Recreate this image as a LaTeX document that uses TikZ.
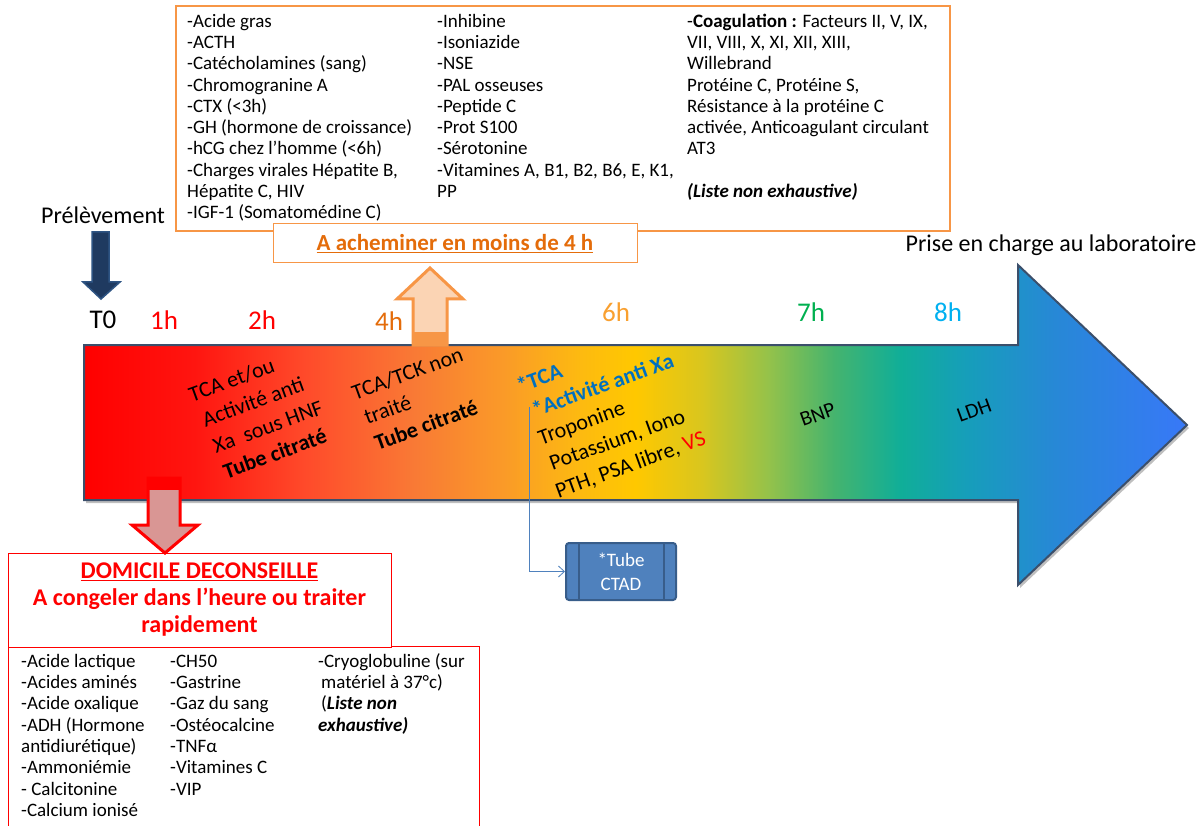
\documentclass[tikz,border=0pt]{standalone}
\usepackage{fontspec}
\setmainfont{Carlito}
\usetikzlibrary{arrows.meta}
\definecolor{aorange}{HTML}{F79646}
\definecolor{dorange}{HTML}{E46C0A}
\definecolor{peach}{HTML}{FBD4B4}
\definecolor{navy}{HTML}{1F3A60}
\definecolor{navyedge}{HTML}{2E5483}
\definecolor{pinkfill}{HTML}{D99694}
\definecolor{tblue}{HTML}{0070C0}
\definecolor{ctadfill}{HTML}{4F81BD}
\definecolor{ctadedge}{HTML}{385D8A}
\definecolor{arrowedge}{HTML}{3B4F6B}
\definecolor{sixh}{HTML}{F9A030}
\definecolor{sevenh}{HTML}{00B050}
\definecolor{eighth}{HTML}{00B0F0}
\definecolor{g0}{HTML}{FF0000}
\definecolor{g1}{HTML}{FF1510}
\definecolor{g2}{HTML}{FF4A2A}
\definecolor{g3}{HTML}{F97A35}
\definecolor{g4}{HTML}{FA9A28}
\definecolor{g5}{HTML}{FDBA10}
\definecolor{g6}{HTML}{FFC800}
\definecolor{g7}{HTML}{D9C61E}
\definecolor{g8}{HTML}{95C24A}
\definecolor{g9}{HTML}{45B46E}
\definecolor{g10}{HTML}{10AE98}
\definecolor{g11}{HTML}{169EBA}
\definecolor{g12}{HTML}{2788D6}
\definecolor{g13}{HTML}{3878F8}
\pgfdeclarehorizontalshading{timeline}{100bp}{color(0bp)=(g0); color(25bp)=(g0); color(30bp)=(g1); color(35bp)=(g2); color(40bp)=(g3); color(44bp)=(g4); color(47.5bp)=(g5); color(50bp)=(g6); color(53bp)=(g7); color(56bp)=(g8); color(59bp)=(g9); color(62bp)=(g10); color(65bp)=(g11); color(69bp)=(g12); color(75bp)=(g13); color(100bp)=(g13)}
\begin{document}
\begin{tikzpicture}[x=1pt,y=-1pt,
  boxline/.style={draw=aorange, line width=1.2pt},
  listtxt/.style={font=\fontsize{19}{21.3}\selectfont, align=left, anchor=north west, inner sep=0pt},
  hourlbl/.style={font=\fontsize{27}{30}\selectfont, inner sep=0pt},
  bigtxt/.style={font=\fontsize{24}{28}\selectfont, inner sep=0pt},
  arrgroup/.style={font=\fontsize{22}{#1}\selectfont, rotate=20, anchor=north west, align=left, inner sep=0pt},
  smalltxt/.style={font=\fontsize{21}{24}\selectfont, rotate=20, anchor=base west, inner sep=0pt},
  conn/.style={draw=ctadfill, line width=0.8pt, -{Straight Barb[length=6pt,width=11pt]}},
]
\useasboundingbox (0,0) rectangle (1202,826);
\fill[white] (0,0) rectangle (1202,826);

% ---------- top list box ----------
\draw[boxline] (176,6) rectangle (950,231);
\node[listtxt] (topc1) at (187,11) {\rule{0pt}{16pt}-Acide gras\\-ACTH\\-Catécholamines (sang)\\-Chromogranine A\\-CTX (<3h)\\-GH (hormone de croissance)\\-hCG chez l’homme (<6h)\\-Charges virales Hépatite B,\\Hépatite C, HIV\\-IGF-1 (Somatomédine C)};
\node[listtxt] (topc2) at (437,11) {\rule{0pt}{16pt}-Inhibine\\-Isoniazide\\-NSE\\-PAL osseuses\\-Peptide C\\-Prot S100\\-Sérotonine\\-Vitamines A, B1, B2, B6, E, K1,\\PP};
\node[listtxt] (topc3) at (687,11) {\rule{0pt}{16pt}-\textbf{Coagulation :} Facteurs II, V, IX,\\VII, VIII, X, XI, XII, XIII,\\Willebrand\\Protéine C, Protéine S,\\Résistance à la protéine C\\activée, Anticoagulant circulant\\AT3\\[21.3pt]\textbf{\textit{(Liste non exhaustive)}}};

\node[draw=aorange, line width=1pt, fill=white, minimum width=364pt, minimum height=39pt, inner sep=0pt,
      font=\bfseries\fontsize{23}{26}\selectfont, text=dorange] (achem) at (455,243.5) {\underline{A acheminer en moins de 4 h}};

% ---------- labels above timeline ----------
\node[bigtxt] (prel) at (103,215) {Prélèvement};
\node[bigtxt] (prise) at (1051,245) {Prise en charge au laboratoire};
\node[hourlbl] (t0) at (103,320) {T0};
\node[hourlbl, text=red] (h1) at (164,320) {1h};
\node[hourlbl, text=red] (h2) at (262,320) {2h};
\node[hourlbl, text=dorange] (h4) at (389,321) {4h};
\node[hourlbl, text=sixh] (h6) at (616,312) {6h};
\node[hourlbl, text=sevenh] (h7) at (811,312) {7h};
\node[hourlbl, text=eighth] (h8) at (948,312) {8h};

% navy arrow
\filldraw[fill=navy, draw=navyedge, line width=1.5pt] (92,232) -- (109,232) -- (109,282) -- (120,282) -- (101,299) -- (83,282) -- (92,282) -- cycle;

% ---------- big timeline arrow ----------
\fill[black, opacity=0.25, shift={(2,3)}] (84,345) -- (1018,345) -- (1018,265) -- (1187,425) -- (1018,585) -- (1018,500) -- (84,500) -- cycle;
\shadedraw[shading=timeline, draw=arrowedge, line width=2pt] (84,345) -- (1018,345) -- (1018,265) -- (1187,425) -- (1018,585) -- (1018,500) -- (84,500) -- cycle;

% texts on arrow (one rotated block each)
\node[arrgroup=28] (grpa) at (185.8,385.1) {\rule{0pt}{18pt}TCA et/ou\\\hspace*{4pt}Activité anti\\\hspace*{5pt}Xa\ \ sous HNF\\\hspace*{6pt}\textbf{Tube citraté}};
\node[arrgroup=27.5] (grpb) at (348.8,383.1) {\rule{0pt}{18pt}TCA/TCK non\\\hspace*{3pt}traité\\\hspace*{4pt}\textbf{Tube citraté}};
\node[arrgroup=28] (grpc) at (513.8,376.1) {\rule{0pt}{18pt}\textcolor{tblue}{\textbf{*TCA}}\\\hspace*{6pt}\textcolor{tblue}{\textbf{*Activité anti Xa}}\\\hspace*{2pt}Troponine\\\hspace*{4pt}Potassium, Iono\\PTH, PSA libre, \textcolor{red}{VS}};
\node[smalltxt] (bnp) at (803,427) {BNP};
\node[smalltxt] (ldh) at (960,423) {LDH};

% CTAD tube
\node[draw=ctadedge, fill=ctadfill, line width=2pt, rounded corners=3pt, minimum width=110pt, minimum height=57pt,
      inner sep=0pt, text=white, align=center, font=\fontsize{19}{24}\selectfont] (ctad) at (621,571.5) {*Tube\\CTAD};
\draw[ctadedge, line width=2pt] ([xshift=14pt]ctad.north west) -- ([xshift=14pt]ctad.south west);
\draw[ctadedge, line width=2pt] ([xshift=-13pt]ctad.north east) -- ([xshift=-13pt]ctad.south east);
\coordinate (tcaend) at (529,407);
\draw[conn] (tcaend) |- (ctad.west);

% orange up arrow
\filldraw[fill=peach, draw=aorange, line width=3pt] (413,345) -- (413,299) -- (397,299) -- (430,268) -- (463,299) -- (447,299) -- (447,345) -- cycle;
\fill[aorange] (413,332) rectangle (447,346);

% ---------- bottom ----------
\draw[red, line width=1pt] (8,830) -- (8,646) -- (479,646) -- (479,830);
\node[listtxt] (botc1) at (21,651) {\rule{0pt}{16pt}-Acide lactique\\-Acides aminés\\-Acide oxalique\\-ADH (Hormone\\antidiurétique)\\-Ammoniémie\\- Calcitonine\\-Calcium ionisé};
\node[listtxt] (botc2) at (170,651) {\rule{0pt}{16pt}-CH50\\-Gastrine\\-Gaz du sang\\-Ostéocalcine\\-TNFα\\-Vitamines C\\-VIP};
\node[listtxt] (botc3) at (318,651) {\rule{0pt}{16pt}-Cryoglobuline (sur\\\hspace*{3pt}matériel à 37°c)\\\hspace*{3pt}(\textbf{\textit{Liste non}}\\\textbf{\textit{exhaustive)}}};

\node[draw=red, line width=1pt, fill=white, minimum width=383pt, minimum height=94pt, inner sep=0pt, align=center,
      text=red, font=\bfseries\fontsize{24}{27}\selectfont] (domic) at (199.5,600) {\underline{DOMICILE DECONSEILLE}\\A congeler dans l’heure ou traiter\\rapidement};

% red down arrow
\filldraw[fill=pinkfill, draw=red, line width=3pt] (148,478) -- (180,478) -- (180,525) -- (198,525) -- (165,553) -- (132,525) -- (148,525) -- cycle;
\fill[red] (148,478) rectangle (180,490);
\end{tikzpicture}
\end{document}
